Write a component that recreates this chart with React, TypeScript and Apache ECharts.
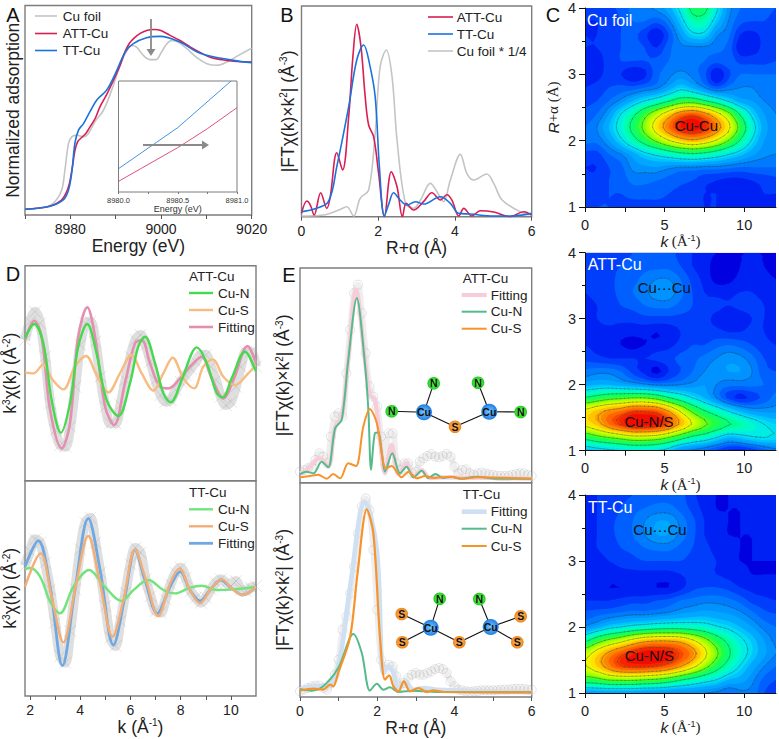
import React, { useEffect, useRef } from "react";
import * as echarts from "echarts";

const FONT = "Liberation Sans";

// Panel A: XANES
const aFoil = [[8970,.005],[8974.8,.022],[8976.6,.056],[8978.1,.135],[8978.8,.27],[8979.6,.45],[8980.3,.494],[8981.4,.506],[8982.9,.494],[8984,.517],[8985.4,.596],[8987.3,.674],[8989.1,.809],[8990.6,.944],[8992.1,1.056],[8993.5,1.112],[8994.6,1.101],[8996.1,1.045],[8997.6,1.016],[8998.9,1.016],[9000.1,1.067],[9001.3,1.124],[9002.4,1.146],[9003.8,1.135],[9005.7,1.09],[9007.9,1.029],[9010.1,.989],[9012.3,.978],[9014.5,1.0],[9017.1,1.045],[9020,1.094]];
const aAtt = [[8970,.005],[8975.5,.025],[8978,.065],[8979,.11],[8979.8,.18],[8980.5,.30],[8981,.40],[8981.6,.46],[8982.5,.49],[8983.5,.52],[8984.3,.56],[8985.5,.62],[8986.5,.695],[8988,.78],[8989.5,.875],[8991,.98],[8992,1.065],[8993,1.125],[8994,1.16],[8995.5,1.195],[8997,1.215],[8998.5,1.22],[8999.8,1.215],[9002,1.18],[9004.2,1.145],[9006.5,1.10],[9008.6,1.065],[9011,1.03],[9013.5,1.015],[9016,1.005],[9020,1.0]];
const aTt = [[8970,.005],[8975.5,.025],[8978.5,.07],[8979.6,.135],[8980.3,.25],[8981,.45],[8981.8,.54],[8982.9,.584],[8984.3,.663],[8985.8,.742],[8988,.81],[8989.9,.92],[8992.1,1.067],[8993.9,1.124],[8996.8,1.164],[8999.8,1.173],[9004.2,1.135],[9008.6,1.06],[9016,1.011],[9020,.996]];
const insetTt = [[8980,.21],[8980.5,.58],[8980.95,1.0]];
const insetAtt = [[8980,.096],[8980.5,.40],[8980.75,.57],[8981,.76]];

// Panel B: FT magnitude
const bAtt = [[0,.10],[.14,.47],[.23,.35],[.33,.05],[.50,.72],[.66,.25],[.75,.60],[.92,1.92],[1.07,1.40],[1.23,3.0],[1.34,4.8],[1.44,5.77],[1.55,5.1],[1.66,3.6],[1.75,2.75],[1.88,2.4],[2.01,1.3],[2.16,0],[2.34,1.35],[2.49,.9],[2.63,0],[2.73,.4],[2.92,.2],[3.18,.45],[3.40,.72],[3.62,.5],[3.79,.66],[3.92,.5],[4.10,.02],[4.23,.25],[4.44,.02],[4.66,.18],[5.01,.14],[5.44,0],[5.79,.15],[6,.05]];
const bTt = [[0,.15],[.31,.22],[.70,.45],[.92,1.5],[1.23,3.3],[1.44,4.7],[1.62,5.15],[1.77,4.6],[1.92,3.6],[2.03,1.5],[2.16,.02],[2.28,.4],[2.40,.72],[2.57,.5],[2.75,.35],[2.97,.45],[3.18,.38],[3.62,.6],[3.88,.4],[4.10,.1],[4.40,.08],[5.01,.02],[5.44,.02],[6,.1]];
const bFoil = [[0,.02],[.57,.05],[.97,.2],[1.18,.3],[1.36,.02],[1.53,.55],[1.75,.8],[1.92,2.5],[2.05,4.5],[2.21,5.0],[2.36,4.2],[2.49,2.3],[2.71,.4],[2.92,.25],[3.10,.5],[3.36,1.0],[3.53,.75],[3.70,.45],[3.88,1.1],[4.14,1.87],[4.31,1.3],[4.49,1.1],[4.83,1.28],[5.01,1.0],[5.23,.5],[5.70,.15],[6,.05]];

// Panels C: k / R maps (rows run from R = 4.0 down to R = 1.0)
const mapK = [0,.75,1.5,2.25,3,3.75,4.5,5.25,6,6.75,7.5,8.25,9,9.75,10.5,11.25,12];
const mapR = [4,3.8,3.6,3.4,3.2,3,2.8,2.6,2.4,2.2,2,1.8,1.6,1.4,1.2,1];
const mapFoil = [
[7,7,8,10,13,14,16,20,30,44,44,30,17,12,11,10,9],
[6,6,7,9,12,12,10,14,24,36,36,24,15,10,9,9,8],
[6,6,7,9,10,7,3,9,18,26,26,16,13,6,5,7,8],
[6,6,7,9,10,9,6,11,14,14,14,13,11,4,4,7,8],
[5,5,7,9,9,9,10,12,14,13,12,10,11,8,8,8,9],
[5,5,7,6,3,5,11,14,16,14,10,3,8,12,12,12,12],
[6,7,9,10,10,12,14,19,25,21,15,10,13,15,15,13,13],
[8,9,12,16,22,28,33,40,47,48,42,35,27,20,18,15,14],
[10,12,18,28,38,50,62,74,86,90,84,72,58,40,26,18,15],
[12,15,22,32,44,57,72,86,97,100,96,85,70,50,32,20,16],
[13,13,18,26,36,46,56,66,74,78,74,66,54,40,27,18,16],
[8,8,12,15,20,26,30,34,38,40,38,34,29,24,19,16,15],
[6,6,9,11,16,17,18,16,15,15,14,14,13,12,12,12,12],
[7,7,9,10,13,13,12,11,10,9,7,6,5,5,6,7,8],
[8,8,9,9,10,10,10,9,8,7,6,6,5,5,5,6,6],
[9,9,9,8,8,8,8,8,7,7,6,6,5,5,5,5,5],
];
const mapAtt = [
[6,7,7,8,9,10,10,10,8,6,4,3,3,3,3,3,3],
[6,7,8,9,10,11,11,11,9,6,4,2,1,3,4,3,2],
[6,7,8,10,11,13,15,15,12,8,5,2,2,4,5,4,3],
[6,7,8,10,12,14,17,17,13,9,6,5,5,6,6,5,4],
[5,6,7,9,10,12,13,13,11,9,7,7,6,7,7,6,5],
[5,6,7,7,7,8,8,8,8,8,7,5,3,4,6,6,5],
[5,5,5,4,4,4,3,4,6,8,7,7,6,6,7,6,5],
[6,5,4,3,2,3,4,5,7,9,9,11,12,11,9,7,6],
[8,7,6,6,6,6,7,8,10,11,13,15,17,16,13,9,8],
[13,14,14,12,8,5,2,6,9,12,15,17,18,18,15,10,9],
[20,22,22,20,18,16,14,14,15,16,18,15,13,13,13,12,11],
[42,46,50,52,54,54,50,42,35,28,22,15,8,5,7,10,13],
[70,76,82,86,92,92,90,80,66,52,42,35,28,22,18,17,17],
[70,76,86,94,100,100,98,90,78,66,56,48,42,38,33,28,25],
[45,50,54,58,62,62,60,54,46,38,34,28,22,24,27,28,27],
[22,24,26,28,30,30,28,24,16,14,11,8,5,4,6,10,13],
];
const mapTt = [
[5,6,7,8,9,10,11,11,10,7,4,3,3,3,3,3,3],
[5,6,7,9,11,12,13,13,11,8,5,3,3,3,3,3,3],
[5,6,8,10,12,15,18,18,14,10,6,4,3,3,3,3,3],
[5,6,8,10,12,15,18,18,14,10,6,4,3,3,3,3,3],
[5,6,7,9,10,12,13,13,11,9,7,5,4,3,3,3,3],
[4,5,6,7,8,9,9,9,9,8,7,6,4,3,3,3,3],
[3,4,4,5,5,5,5,5,6,7,7,6,5,4,3,3,3],
[4,4,3,3,3,3,3,3,5,8,9,9,8,6,5,4,4],
[6,6,6,7,8,8,9,10,12,13,14,14,13,11,8,7,6],
[10,11,12,13,14,14,15,16,18,19,20,19,18,16,13,10,9],
[16,20,25,28,31,33,35,36,36,35,33,29,26,22,18,14,12],
[38,48,56,62,70,76,78,78,76,68,58,47,38,30,24,18,14],
[62,72,82,90,96,100,100,98,92,84,70,56,43,33,25,19,15],
[66,74,84,92,94,94,92,88,80,70,58,46,36,27,20,15,12],
[48,50,55,56,56,54,52,48,42,37,32,28,22,20,16,11,9],
[17,18,18,18,18,17,17,16,16,16,15,14,12,14,14,9,8],
];
const mapLevels = [-30,3,6,9,12,15,18,22,25,28,32,35,38,41,45,50,54,58,62,66,70,74,78,82,86,90,94,97];
const mapLines = [15,28,41,54,67,80,93];

// Panels D: k-space fits
const dK = [1.8,2,2.2,2.4,2.6,2.8,3,3.2,3.4,3.6,3.8,4,4.2,4.4,4.6,4.8,5,5.2,5.4,5.6,5.8,6,6.2,6.4,6.6,6.8,7,7.2,7.4,7.6,7.8,8,8.2,8.4,8.6,8.8,9,9.2,9.4,9.6,9.8,10,10.2,10.4,10.6,10.8,11];
const dAttExp = [1.0,1.55,1.85,1.5,.5,-.9,-1.7,-2.15,-2.2,-1.6,-.4,.85,1.5,1.55,.95,-.1,-1.0,-1.5,-1.5,-.95,-.2,.5,1.0,1.15,.85,.35,-.2,-.65,-.85,-.8,-.5,-.25,-.05,.15,.35,.55,.55,.2,-.2,-.7,-.95,-.85,-.4,.2,.65,.65,.2];
const dAttFit = [[1.8,1.0],[2.17,1.58],[2.46,1.1],[2.8,-1.1],[3.26,-2.25],[3.59,-1.5],[3.92,1.1],[4.28,1.98],[4.59,1.1],[4.99,-1.0],[5.35,-1.55],[5.78,-.3],[6.18,.9],[6.45,1.0],[6.78,.3],[7.18,-.4],[7.51,-.45],[7.98,-.15],[8.37,.2],[8.84,.5],[9.24,-.15],[9.7,-.75],[10.1,-.2],[10.67,.82],[11,.3]];
const dAttN = [[1.8,1.05],[2.17,1.48],[2.53,.9],[2.86,-.8],[3.23,-1.78],[3.59,-.9],[3.92,.8],[4.28,1.48],[4.65,.6],[5.05,-.8],[5.52,-1.28],[5.98,-.3],[6.31,.8],[6.58,1.1],[6.98,.3],[7.31,-.6],[7.6,-.87],[8.04,-.2],[8.44,.6],[8.64,.78],[9.04,.3],[9.44,-.6],[9.67,-.72],[10.03,-.15],[10.56,.65],[11,.05]];
const dAttS = [[1.8,.03],[2.13,0],[2.53,.27],[2.86,-.15],[3.33,-.48],[3.79,.2],[4.23,.52],[4.65,-.05],[5.12,-.57],[5.58,0],[6.04,.55],[6.45,0],[6.91,-.52],[7.31,0],[7.68,.47],[8.11,-.15],[8.53,-.45],[8.9,.2],[9.27,.42],[9.7,-.1],[10.16,-.35],[10.69,0],[11,.25]];
const dTtExp = [.65,1.1,1.45,1.35,.75,-.05,-1.05,-2.05,-2.25,-1.3,-.05,1.15,1.95,2.1,1.35,.45,-.55,-1.5,-1.75,-1.0,-.15,.7,1.2,1.05,.25,-.25,-.7,-.75,-.35,.1,.45,.6,.3,-.1,-.3,-.45,-.3,-.05,.15,.25,.15,.05,.2,-.05,-.1,0,.05];
const dTtFit = [[1.8,.63],[2.33,1.41],[2.8,.03],[3.29,-2.34],[3.79,-.07],[4.32,2.08],[4.79,.53],[5.32,-1.72],[5.78,-.27],[6.18,1.13],[6.58,.23],[7.07,-.77],[7.58,.03],[7.98,.48],[8.37,-.07],[8.77,-.4],[9.17,-.07],[9.6,.23],[10.03,-.02],[10.47,-.22],[11,.03]];
const dTtS = [[1.8,.03],[2.42,1.03],[2.86,-.27],[3.33,-1.64],[3.79,-.07],[4.32,1.55],[4.79,.13],[5.29,-1.47],[5.72,-.37],[6.18,1.13],[6.62,.23],[7.11,-.85],[7.58,.13],[7.95,.58],[8.37,-.07],[8.77,-.47],[9.17,-.07],[9.64,.25],[10.03,-.02],[10.47,-.22],[11,.03]];
const dTtN = [[1.8,.55],[2,.59],[2.4,.33],[2.8,-.42],[3.19,-.77],[3.73,.03],[4.36,.53],[4.92,.08],[5.65,-.4],[6.12,-.07],[6.71,.23],[7.31,-.07],[7.78,-.17],[8.37,0],[8.84,.06],[9.44,-.07],[10.1,-.05],[11,.02]];

// Panels E: R-space fits
const eR = [0,.1,.2,.3,.4,.5,.6,.7,.8,.9,1,1.1,1.2,1.3,1.4,1.5,1.6,1.7,1.8,1.9,2,2.1,2.2,2.3,2.4,2.5,2.6,2.7,2.8,2.9,3,3.1,3.2,3.3,3.4,3.5,3.6,3.7,3.8,3.9,4,4.1,4.2,4.3,4.4,4.5,4.6,4.7,4.8,4.9,5,5.1,5.2,5.3,5.4,5.5,5.6,5.7,5.8,5.9,6];
const eAttExp = [.25,.3,.35,.4,.6,.8,.7,.5,1.3,1.9,2.0,1.9,3.2,4.5,5.6,5.85,5.0,3.8,2.8,2.5,2.2,1.3,.5,1.4,1.4,.5,.3,.5,.5,.2,.25,.55,.65,.72,.78,.7,.68,.72,.78,.7,.4,.2,.3,.32,.2,.15,.2,.22,.2,.17,.15,.13,.12,.12,.12,.15,.18,.2,.2,.15,.12];
const eAttFit = [[0,.2],[.17,.3],[.52,.65],[.73,.4],[.91,1.6],[1.08,1.9],[1.25,3.6],[1.45,5.7],[1.68,3.6],[1.81,2.55],[1.94,2.4],[2.07,1.2],[2.2,.2],[2.37,1.05],[2.55,.18],[2.76,.5],[2.94,.1],[3.15,.3],[3.37,.06],[3.71,.08],[6,.04]];
const eAttN = [[0,.18],[.17,.25],[.35,.2],[.56,.55],[.73,.38],[.91,1.55],[1.08,1.8],[1.25,3.6],[1.47,5.45],[1.68,3.5],[1.77,2.1],[1.84,.3],[1.94,1.4],[2.03,1.42],[2.12,.8],[2.2,.25],[2.39,.8],[2.59,.2],[2.76,.4],[2.94,.08],[3.15,.28],[3.32,.06],[3.51,.18],[3.71,.06],[3.93,.1],[4.15,.04],[4.58,.1],[5.09,.04],[6,.04]];
const eAttS = [[0,.08],[.26,.12],[.47,.16],[.69,.04],[.86,.18],[1.04,.05],[1.25,.5],[1.45,.42],[1.64,1.6],[1.81,2.13],[1.99,1.7],[2.16,.5],[2.23,.35],[2.37,.42],[2.63,.08],[2.81,.25],[3.02,.05],[3.24,.12],[3.45,.06],[3.89,.1],[4.23,.04],[4.58,.08],[6,.04]];
const eTtExp = [.05,.1,.15,.2,.22,.22,.15,.1,.3,.55,1.0,1.9,2.3,3.0,3.8,4.8,5.6,5.85,5.5,4.3,2.5,1.0,.7,.85,.8,.5,.2,.3,.45,.55,.6,.55,.55,.6,.65,.72,.75,.72,.6,.35,.2,.1,.08,.05,.04,.05,.06,.08,.08,.08,.08,.08,.1,.1,.1,.12,.13,.13,.12,.1,.1];
const eTtFit = [[0,.1],[.35,.2],[.69,.2],[.99,.8],[1.3,3.2],[1.68,5.75],[1.99,4.3],[2.16,.6],[2.29,.8],[2.42,.6],[2.55,.1],[2.72,.35],[2.94,.1],[3.2,.15],[3.54,.1],[6,.02]];
const eTtN = [[0,.12],[.3,.07],[.6,.2],[.99,.75],[1.38,1.77],[1.6,1.2],[1.81,.07],[1.99,.28],[2.16,.1],[2.33,.17],[2.55,.03],[2.94,.07],[3.54,.03],[6,.02]];
const eTtS = [[0,.07],[.35,.13],[.6,.1],[.78,.25],[.86,.2],[.99,.6],[1.3,1.7],[1.49,3.6],[1.73,5.52],[1.9,4.8],[2.07,1.7],[2.2,.4],[2.31,.53],[2.42,.2],[2.55,.05],[2.69,.35],[2.85,.05],[3.07,.15],[3.28,.03],[3.45,.08],[3.71,.03],[6,.02]];

// Colours
const GRAY = "#c4c4c4", RED = "#d81e52", BLUE = "#1a72dc";
const FRAME = "#7d7d7d";
const rainbow: [number, number[]][] = [[0,[0,0,225]],[6,[0,44,250]],[10,[0,92,255]],[15,[0,136,255]],[22,[0,184,255]],[28,[0,232,240]],[35,[0,255,192]],[41,[0,255,128]],[50,[48,255,48]],[58,[160,255,0]],[66,[232,255,0]],[72,[255,224,0]],[80,[255,160,0]],[90,[255,80,0]],[100,[240,0,0]]];

function rampColor(v: number) {
  for (let i = 1; i < rainbow.length; i++) {
    if (v <= rainbow[i][0]) {
      const [a, ca] = rainbow[i - 1], [b, cb] = rainbow[i];
      const t = Math.max(0, (v - a) / (b - a));
      return `rgb(${ca.map((c, n) => Math.round(c + (cb[n] - c) * t)).join(",")})`;
    }
  }
  return "rgb(240,0,0)";
}

// Contour drawing: the hand-read grid is drawn as iso-bands on a finer drawing mesh.
const SUB = 3;
const cr = (a: number, b: number, c: number, d: number, t: number) =>
  0.5 * (2 * b + (c - a) * t + (2 * a - 5 * b + 4 * c - d) * t * t + (3 * b - a - 3 * c + d) * t * t * t);
function fineLine(v: number[]) {
  const out: number[] = [];
  const n = v.length;
  for (let i = 0; i < n - 1; i++) {
    const a = v[Math.max(0, i - 1)], b = v[i], c = v[i + 1], d = v[Math.min(n - 1, i + 2)];
    for (let s = 0; s < SUB; s++) out.push(cr(a, b, c, d, s / SUB));
  }
  out.push(v[n - 1]);
  return out;
}
const linear = (v: number[]) => {
  const out: number[] = [];
  for (let i = 0; i < v.length - 1; i++) for (let s = 0; s < SUB; s++) out.push(v[i] + ((v[i + 1] - v[i]) * s) / SUB);
  out.push(v[v.length - 1]);
  return out;
};
const fineK = linear(mapK), fineR = linear(mapR);
const meshCache = new Map<number[][], number[][]>();
function mesh(m: number[][]) {
  let f = meshCache.get(m);
  if (!f) {
    const rows = m.map(fineLine);
    const cols = rows[0].map((_, i) => fineLine(rows.map((r) => r[i])));
    f = fineR.map((_, j) => fineK.map((_, i) => cols[i][j]));
    meshCache.set(m, f);
  }
  return f;
}
type P = [number, number, number];
function forCells(m: number[][], api: any, lo: number, whole: ((x0: number, x1: number, y0: number, y1: number) => void) | null, part: (t: P[]) => void) {
  const f = mesh(m);
  const xs = fineK.map((k) => api.coord([k, 1])[0]);
  const ys = fineR.map((r) => api.coord([0, r])[1]);
  for (let j = 0; j < ys.length - 1; j++) {
    let run = -1;
    const flush = (end: number) => { if (run >= 0 && whole) whole(xs[run], xs[end], ys[j], ys[j + 1]); run = -1; };
    for (let i = 0; i < xs.length - 1; i++) {
      const va = f[j][i], vb = f[j][i + 1], vc = f[j + 1][i + 1], vd = f[j + 1][i];
      const lowest = Math.min(va, vb, vc, vd), highest = Math.max(va, vb, vc, vd);
      if (lowest >= lo) { if (run < 0) run = i; continue; }
      flush(i);
      if (highest < lo) continue;
      const a: P = [xs[i], ys[j], va], b: P = [xs[i + 1], ys[j], vb], c: P = [xs[i + 1], ys[j + 1], vc], d: P = [xs[i], ys[j + 1], vd];
      if (Math.abs(va - vc) <= Math.abs(vb - vd)) { part([a, b, c]); part([a, c, d]); }
      else { part([a, b, d]); part([b, c, d]); }
    }
    flush(xs.length - 1);
  }
}
const cut = (p: P, q: P, l: number): P => {
  const t = (l - p[2]) / (q[2] - p[2]);
  return [p[0] + (q[0] - p[0]) * t, p[1] + (q[1] - p[1]) * t, l];
};
function bandPath(m: number[][], api: any, lo: number) {
  const parts: string[] = [];
  forCells(m, api, lo,
    (x0, x1, y0, y1) => parts.push(`M${x0.toFixed(1)} ${y0.toFixed(1)}L${x1.toFixed(1)} ${y0.toFixed(1)}L${x1.toFixed(1)} ${y1.toFixed(1)}L${x0.toFixed(1)} ${y1.toFixed(1)}Z`),
    (tri) => {
      const poly: P[] = [];
      for (let i = 0; i < 3; i++) {
        const p = tri[i], q = tri[(i + 1) % 3];
        if (p[2] >= lo) poly.push(p);
        if ((p[2] >= lo) !== (q[2] >= lo)) poly.push(cut(p, q, lo));
      }
      if (poly.length >= 3) parts.push("M" + poly.map((p) => p[0].toFixed(1) + " " + p[1].toFixed(1)).join("L") + "Z");
    });
  return parts.join("");
}
function linePath(m: number[][], api: any, lo: number) {
  const parts: string[] = [];
  forCells(m, api, lo, null, (tri) => {
    const s: P[] = [];
    for (let i = 0; i < 3; i++) {
      const p = tri[i], q = tri[(i + 1) % 3];
      if ((p[2] >= lo) !== (q[2] >= lo)) s.push(cut(p, q, lo));
    }
    if (s.length === 2) parts.push(`M${s[0][0].toFixed(1)} ${s[0][1].toFixed(1)}L${s[1][0].toFixed(1)} ${s[1][1].toFixed(1)}`);
  });
  return parts.join("");
}
function mapSeries(m: number[][], axis: number): any[] {
  return [
    {
      type: "custom", xAxisIndex: axis, yAxisIndex: axis, silent: true, clip: true,
      data: mapLevels.map((l) => [l]),
      renderItem: (_: any, api: any) => {
        const lo = api.value(0);
        return { type: "path", shape: { pathData: bandPath(m, api, lo) }, style: { fill: rampColor(lo + 1.5), stroke: null } };
      },
    },
    {
      type: "custom", xAxisIndex: axis, yAxisIndex: axis, silent: true, clip: true, z: 3,
      data: mapLines.map((l) => [l]),
      renderItem: (_: any, api: any) => ({
        type: "path", shape: { pathData: linePath(m, api, api.value(0)) },
        style: { fill: null, stroke: "rgba(30,60,60,0.5)", lineWidth: 0.6, lineCap: "round" },
      }),
    },
  ];
}

const line = (data: any[], axis: number, color: string, width = 1.6, smooth: any = 0.35, z = 3) => ({
  type: "line", data, xAxisIndex: axis, yAxisIndex: axis, showSymbol: false, smooth, z, clip: true,
  lineStyle: { color, width }, itemStyle: { color }, silent: true,
});
const crosses = (ys: number[], axis: number) => ({
  type: "scatter", data: ys.map((y, i) => [dK[i], y]), xAxisIndex: axis, yAxisIndex: axis, silent: true, z: 2,
  symbol: "path://M0 0L10 10M10 0L0 10", symbolSize: 12,
  itemStyle: { color: "none", borderColor: "rgba(130,130,130,0.45)", borderWidth: 0.6 },
});
const band = (xs: number[], ys: number[], axis: number, color: string, width: number) => ({
  ...line(ys.map((y, i) => [xs[i], y]), axis, color, width, 0.35, 1),
});
const circles = (ys: number[], axis: number) => ({
  type: "scatter", data: ys.map((y, i) => [eR[i], y]), xAxisIndex: axis, yAxisIndex: axis, silent: true, z: 2,
  symbol: "circle", symbolSize: 9,
  itemStyle: { color: "rgba(255,255,255,0)", borderColor: "rgba(170,170,170,0.45)", borderWidth: 0.9 },
});

const sup = { b: { fontSize: 17.5, fontFamily: FONT, color: "#222" }, s: { fontSize: 10, fontFamily: FONT, color: "#222", verticalAlign: "top", padding: [0, 0, 6, 0] } };
const ftName = "{b||FTχ(k)×k}{s|2}{b|| (Å}{s|-3}{b|)}";
const k3Name = "{b|k}{s|3}{b|χ(k) (Å}{s|-2}{b|)}";

function frameX(axis: number, min: number, max: number, ticks: number[] | null, labels: number[] | null, name: any, extra: any = {}) {
  return {
    gridIndex: axis, type: "value", min, max, splitLine: { show: false },
    axisLine: { show: false, onZero: false },
    axisTick: ticks ? { show: true, length: 4, customValues: ticks, lineStyle: { color: "#555", width: 1 } } : { show: false },
    axisLabel: labels ? { show: true, customValues: labels, fontSize: 14, color: "#222", margin: 7, fontFamily: FONT, hideOverlap: false, formatter: (v: number) => String(v) } : { show: false },
    name, nameLocation: "middle", nameGap: 25, nameTextStyle: { fontSize: 17.5, color: "#222", fontFamily: FONT },
    ...extra,
  };
}
function frameY(axis: number, min: number, max: number, name: any, nameGap = 5, fontSize = 17.5) {
  return {
    gridIndex: axis, type: "value", min, max, splitLine: { show: false }, axisLine: { show: false, onZero: false }, axisTick: { show: false }, axisLabel: { show: false },
    name, nameLocation: "middle", nameRotate: 90, nameGap,
    nameTextStyle: { fontSize, color: "#222", fontFamily: FONT, rich: sup },
  };
}
function mapX(axis: number, showName: boolean) {
  return {
    gridIndex: axis, type: "value", min: 0, max: 12, splitLine: { show: false },
    axisLine: { show: true, onZero: false, lineStyle: { color: "#111", width: 1 } },
    axisTick: { show: true, length: 5, customValues: [0, 2.5, 5, 7.5, 10], lineStyle: { color: "#111" } },
    axisLabel: { show: true, customValues: [0, 5, 10], fontSize: 14.5, color: "#222", margin: 10, fontFamily: FONT },
    name: showName ? "{i|k} {t|(Å}{u|-1}{t|)}" : "", nameLocation: "middle", nameGap: 26,
    nameTextStyle: { rich: { i: { fontSize: 15.5, fontStyle: "italic", fontFamily: FONT, color: "#222" }, t: { fontSize: 15, fontFamily: "Liberation Serif", color: "#222" }, u: { fontSize: 9, fontFamily: FONT, color: "#222", verticalAlign: "top" } } },
    z: 5,
  };
}
function mapY(axis: number, name: string) {
  return {
    gridIndex: axis, type: "value", min: 1, max: 4, interval: 1, splitLine: { show: false },
    axisLine: { show: true, onZero: false, lineStyle: { color: "#111", width: 1 } },
    axisTick: { show: true, length: 6, lineStyle: { color: "#111" } },
    minorTick: { show: true, splitNumber: 2, length: 3, lineStyle: { color: "#111" } },
    axisLabel: { show: true, fontSize: 14.5, color: "#222", margin: 9, fontFamily: FONT },
    name, nameLocation: "middle", nameRotate: 90, nameGap: 24,
    nameTextStyle: { rich: { i: { fontSize: 15.5, fontStyle: "italic", fontFamily: FONT, color: "#222" }, t: { fontSize: 15, fontFamily: "Liberation Serif", color: "#222" } } },
    z: 5,
  };
}

function txt(x: number, y: number, text: string, fontSize = 13.5, fill = "#222", align = "left") {
  return { type: "text", x, y, z: 20, silent: true, style: { text, fontSize, fill, fontFamily: FONT, align, verticalAlign: "middle" } };
}
function key(x1: number, x2: number, y: number, color: string, width: number, tx: number, label: string) {
  return [
    { type: "line", z: 20, silent: true, shape: { x1, y1: y, x2, y2: y }, style: { stroke: color, lineWidth: width } },
    txt(tx, y, label),
  ];
}
function arrow(x1: number, y1: number, x2: number, y2: number) {
  const dx = Math.sign(x2 - x1), dy = Math.sign(y2 - y1);
  const s = 7, w = 4.5;
  return [
    { type: "line", z: 20, silent: true, shape: { x1, y1, x2: x2 - dx * s, y2: y2 - dy * s }, style: { stroke: "#8a8a8a", lineWidth: 1.8 } },
    { type: "polygon", z: 20, silent: true, shape: { points: [[x2, y2], [x2 - dx * s - dy * w, y2 - dy * s - dx * w], [x2 - dx * s + dy * w, y2 - dy * s + dx * w]] }, style: { fill: "#8a8a8a" } },
  ];
}
const atomStyle: Record<string, { r: number; c0: string; c1: string }> = {
  N: { r: 6.3, c0: "#7dff6a", c1: "#12c912" },
  S: { r: 6.3, c0: "#ffc070", c1: "#ef7f12" },
  Cu: { r: 8, c0: "#7cc8ff", c1: "#1577e0" },
};
type Atom = [string, number, number];
function molecule(atoms: Atom[], bonds: [number, number][]) {
  const els: any[] = bonds.map(([a, b]) => ({
    type: "line", z: 18, silent: true,
    shape: { x1: atoms[a][1], y1: atoms[a][2], x2: atoms[b][1], y2: atoms[b][2] },
    style: { stroke: "#111", lineWidth: 1.1 },
  }));
  for (const [el, x, y] of atoms) {
    const st = atomStyle[el];
    els.push({
      type: "circle", z: 19, silent: true, shape: { cx: x, cy: y, r: st.r },
      style: { fill: new echarts.graphic.RadialGradient(0.5, 0.5, 0.55, [{ offset: 0, color: st.c0 }, { offset: 1, color: st.c1 }]) },
    });
    els.push({ type: "text", x, y, z: 20, silent: true, style: { text: el, fontSize: 10.5, fontWeight: "bold", fill: "#111", fontFamily: FONT, align: "center", verticalAlign: "middle" } });
  }
  return els;
}
const molAtt: Atom[] = [["N",391.7,411.3],["Cu",424,412.3],["N",433.7,383.3],["S",455,426.7],["Cu",489.3,411.7],["N",478,382.7],["N",520.7,412]];
const molAttBonds: [number, number][] = [[0,1],[1,2],[1,3],[3,4],[4,5],[4,6]];
const molTt: Atom[] = [["S",401.7,614],["S",402.3,642.3],["Cu",430.7,627.7],["N",439.7,598.7],["S",459.3,642.3],["Cu",490.7,627],["N",479.3,599],["S",520.7,616.3],["S",517.3,642.3]];
const molTtBonds: [number, number][] = [[0,2],[1,2],[2,3],[2,4],[4,5],[5,6],[5,7],[5,8]];

const box = (left: number, top: number, right: number, bottom: number, extra: any = {}) => ({
  left, top, width: right - left, height: bottom - top, show: true, borderColor: FRAME, borderWidth: 1.4, backgroundColor: "transparent", ...extra,
});

function buildOption(): any {
  const grid = [
    box(25, 5.5, 251.7, 215),
    box(118.5, 81, 237, 192, { backgroundColor: "#fff", borderWidth: 1, z: 4 }),
    box(301.5, 6, 531.7, 216.7),
    { left: 585, top: 8, width: 191, height: 199, show: false },
    { left: 585, top: 252.7, width: 191, height: 198, show: false },
    { left: 585, top: 495, width: 191, height: 198, show: false },
    box(25, 265.7, 256, 480.7),
    box(25, 480.7, 256, 696),
    box(300, 268, 531.7, 482.7),
    box(300, 482.7, 531.7, 697),
  ];
  const xAxis = [
    frameX(0, 8970, 9020, [8970, 8980, 8990, 9000, 9010, 9020], [8980, 9000, 9020], "Energy (eV)", { nameGap: 19 }),
    {
      gridIndex: 1, type: "value", min: 8980, max: 8981, splitLine: { show: false }, axisLine: { show: false, onZero: false },
      axisTick: { show: true, length: 2, customValues: [8980, 8980.25, 8980.5, 8980.75, 8981], lineStyle: { color: "#777" } },
      axisLabel: { show: true, customValues: [8980, 8980.5, 8981], fontSize: 7.5, color: "#333", margin: 4, fontFamily: FONT, formatter: (v: number) => v.toFixed(1) },
      name: "Energy (eV)", nameLocation: "middle", nameGap: 11, nameTextStyle: { fontSize: 9, color: "#333", fontFamily: FONT }, z: 5,
    },
    frameX(2, 0, 6, [0, 2, 4, 6], [0, 2, 4, 6], "R+α (Å)", { nameGap: 15 }),
    mapX(3, true), mapX(4, true), mapX(5, true),
    frameX(6, 1.8, 11, null, null, ""),
    frameX(7, 1.8, 11, [2, 3, 4, 5, 6, 7, 8, 9, 10], [2, 4, 6, 8, 10], "{b|k (Å}{s|-1}{b|)}", { nameGap: 20, nameTextStyle: { rich: sup } }),
    frameX(8, 0, 6, null, null, ""),
    frameX(9, 0, 6, [0, 1, 2, 3, 4, 5, 6], [0, 2, 4, 6], "R+α (Å)", { nameGap: 21 }),
  ];
  const yAxis = [
    frameY(0, -0.034, 1.382, "Normalized adsorption", 3, 17.5),
    { gridIndex: 1, type: "value", min: 0, max: 1, show: false },
    frameY(2, 0, 6.32, ftName, 5),
    mapY(3, "{i|R}{t|+α (Å)}"), mapY(4, ""), mapY(5, ""),
    frameY(6, -3.22, 3.23, k3Name, 6),
    frameY(7, -3.25, 3.21, k3Name, 6),
    frameY(8, -0.08, 6.35, ftName, 8),
    frameY(9, -0.12, 6.32, ftName, 8),
  ];
  const series = [
    line(aFoil, 0, GRAY), line(aAtt, 0, RED), line(aTt, 0, BLUE),
    line(insetTt, 1, "#2f86e0", 0.9, false, 6), line(insetAtt, 1, "#d9406e", 0.9, false, 6),
    line(bFoil, 2, GRAY), line(bAtt, 2, RED), line(bTt, 2, BLUE),
    ...mapSeries(mapFoil, 3), ...mapSeries(mapAtt, 4), ...mapSeries(mapTt, 5),
    band(dK, dAttExp, 6, "rgba(150,150,150,0.3)", 10), crosses(dAttExp, 6),
    line(dAttFit, 6, "#e58fb0", 2.6), line(dAttS, 6, "#f8bb80", 2.4, 0.35, 4), line(dAttN, 6, "#45d94f", 2.4, 0.35, 5),
    band(dK, dTtExp, 7, "rgba(150,150,150,0.3)", 10), crosses(dTtExp, 7),
    line(dTtFit, 7, "#6fa9e2", 2.8), line(dTtN, 7, "#72e47c", 2.4, 0.35, 4), line(dTtS, 7, "#f4ae75", 2.4, 0.35, 5),
    band(eR, eAttExp, 8, "rgba(200,200,200,0.3)", 6), circles(eAttExp, 8),
    line(eAttFit, 8, "#f7ccdb", 4.2), line(eAttN, 8, "#55bb8a", 2, 0.3, 4), line(eAttS, 8, "#f6932a", 2, 0.3, 5),
    band(eR, eTtExp, 9, "rgba(200,200,200,0.3)", 6), circles(eTtExp, 9),
    line(eTtFit, 9, "#cfe0f3", 4.6), line(eTtN, 9, "#55bb8a", 2, 0.3, 4), line(eTtS, 9, "#f6932a", 2.2, 0.3, 5),
  ];
  const elements: any[] = [
    txt(13, 15, "A", 20, "#111", "center"), txt(287, 15, "B", 20, "#111", "center"), txt(553, 15, "C", 20, "#111", "center"),
    txt(13, 274, "D", 20, "#111", "center"), txt(289, 275, "E", 20, "#111", "center"),
    ...key(35, 57, 16, GRAY, 1.6, 62.7, "Cu foil"),
    ...key(35, 57, 33.5, RED, 1.6, 62.7, "ATT-Cu"),
    ...key(35, 57, 50.5, BLUE, 1.6, 62.7, "TT-Cu"),
    ...key(428, 453, 17, RED, 1.6, 456.7, "ATT-Cu"),
    ...key(428, 453, 34, BLUE, 1.6, 456.7, "TT-Cu"),
    ...key(428, 453, 51, GRAY, 1.6, 456.7, "Cu foil * 1/4"),
    ...arrow(151, 19, 151, 56),
    ...arrow(143, 145, 209, 145),
    txt(189, 276.7, "ATT-Cu"),
    ...key(189, 213, 293, "#45d94f", 2.4, 218, "Cu-N"),
    ...key(189, 213, 310, "#f8bb80", 2.4, 218, "Cu-S"),
    ...key(189, 213, 327, "#e58fb0", 2.6, 218, "Fitting"),
    txt(189, 492.7, "TT-Cu"),
    ...key(189, 213, 509.3, "#72e47c", 2.4, 218, "Cu-N"),
    ...key(189, 213, 526.3, "#f4ae75", 2.4, 218, "Cu-S"),
    ...key(189, 213, 543.3, "#6fa9e2", 2.8, 218, "Fitting"),
    txt(462.7, 278, "ATT-Cu"),
    ...key(461.7, 486.7, 295, "#f7ccdb", 4.2, 490.7, "Fitting"),
    ...key(461.7, 486.7, 311.7, "#55bb8a", 2, 490.7, "Cu-N"),
    ...key(461.7, 486.7, 328.7, "#f6932a", 2, 490.7, "Cu-S"),
    txt(462.7, 494.7, "TT-Cu"),
    ...key(461.7, 486.7, 511.7, "#cfe0f3", 4.6, 490.7, "Fitting"),
    ...key(461.7, 486.7, 528.7, "#55bb8a", 2, 490.7, "Cu-N"),
    ...key(461.7, 486.7, 546, "#f6932a", 2, 490.7, "Cu-S"),
    txt(587, 20, "Cu foil", 16, "#fff"),
    txt(696.3, 125, "Cu-Cu", 15, "#111", "center"),
    txt(587.7, 264, "ATT-Cu", 16, "#fff"),
    txt(664.3, 287.3, "Cu···Cu", 15, "#111", "center"),
    txt(649, 421, "Cu-N/S", 15, "#111", "center"),
    txt(588, 507.3, "TT-Cu", 16, "#fff"),
    txt(660, 529, "Cu···Cu", 15, "#111", "center"),
    txt(649.3, 655.7, "Cu-N/S", 15, "#111", "center"),
    ...molecule(molAtt, molAttBonds),
    ...molecule(molTt, molTtBonds),
  ];
  return {
    animation: false, backgroundColor: "#fff", tooltip: { show: false }, legend: { show: false },
    textStyle: { fontFamily: FONT },
    grid, xAxis, yAxis, series, graphic: { elements },
  };
}

export default function App() {
  const ref = useRef<HTMLDivElement>(null);
  useEffect(() => {
    document.body.style.margin = "0";
    const chart = echarts.init(ref.current!, undefined, { renderer: "svg" });
    chart.setOption(buildOption());
    return () => chart.dispose();
  }, []);
  return <div ref={ref} style={{ width: 779, height: 739 }} />;
}
